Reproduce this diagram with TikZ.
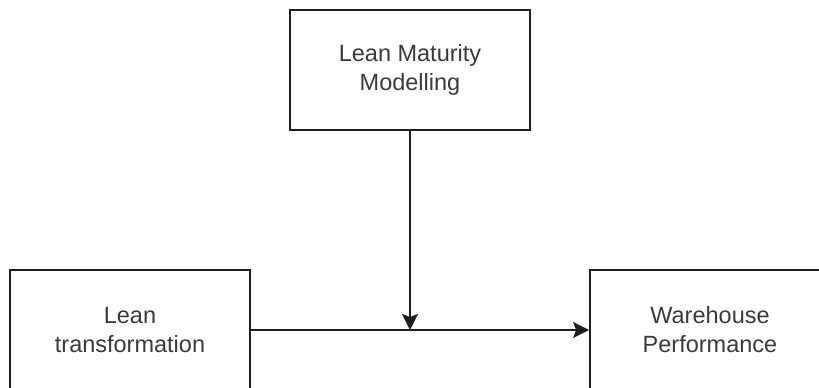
\documentclass[tikz,border=0pt]{standalone}
\usepackage{fontspec}
\setmainfont{Liberation Sans}
\usetikzlibrary{arrows.meta}
\definecolor{txtgray}{HTML}{3A3A3A}
\definecolor{linegray}{HTML}{1E1E1E}
\tikzset{
  box/.style={draw=linegray, line width=1.8pt, minimum width=240pt, minimum height=120pt,
    align=center, inner sep=0pt, text=txtgray,
    font=\fontsize{23.5}{29}\selectfont},
  conn/.style={draw=linegray, line width=1.8pt,
    -{Stealth[length=16pt,width=16pt,inset=3pt]}}
}
\begin{document}
\begin{tikzpicture}[x=1pt,y=-1pt]
\useasboundingbox (0,0) rectangle (819,388);
\clip (0,0) rectangle (819,388);
\node[box] (lmm) at (410,70) {Lean Maturity\\Modelling};
\node[box] (lt) at (130,330) {Lean\\transformation};
\node[box] (wp) at (710,330) {Warehouse\\Performance};
\coordinate (meet) at (410,330);
\draw[conn] (lt.east) -- (wp.west);
\draw[conn] (lmm.south) -- (meet);
\end{tikzpicture}
\end{document}
